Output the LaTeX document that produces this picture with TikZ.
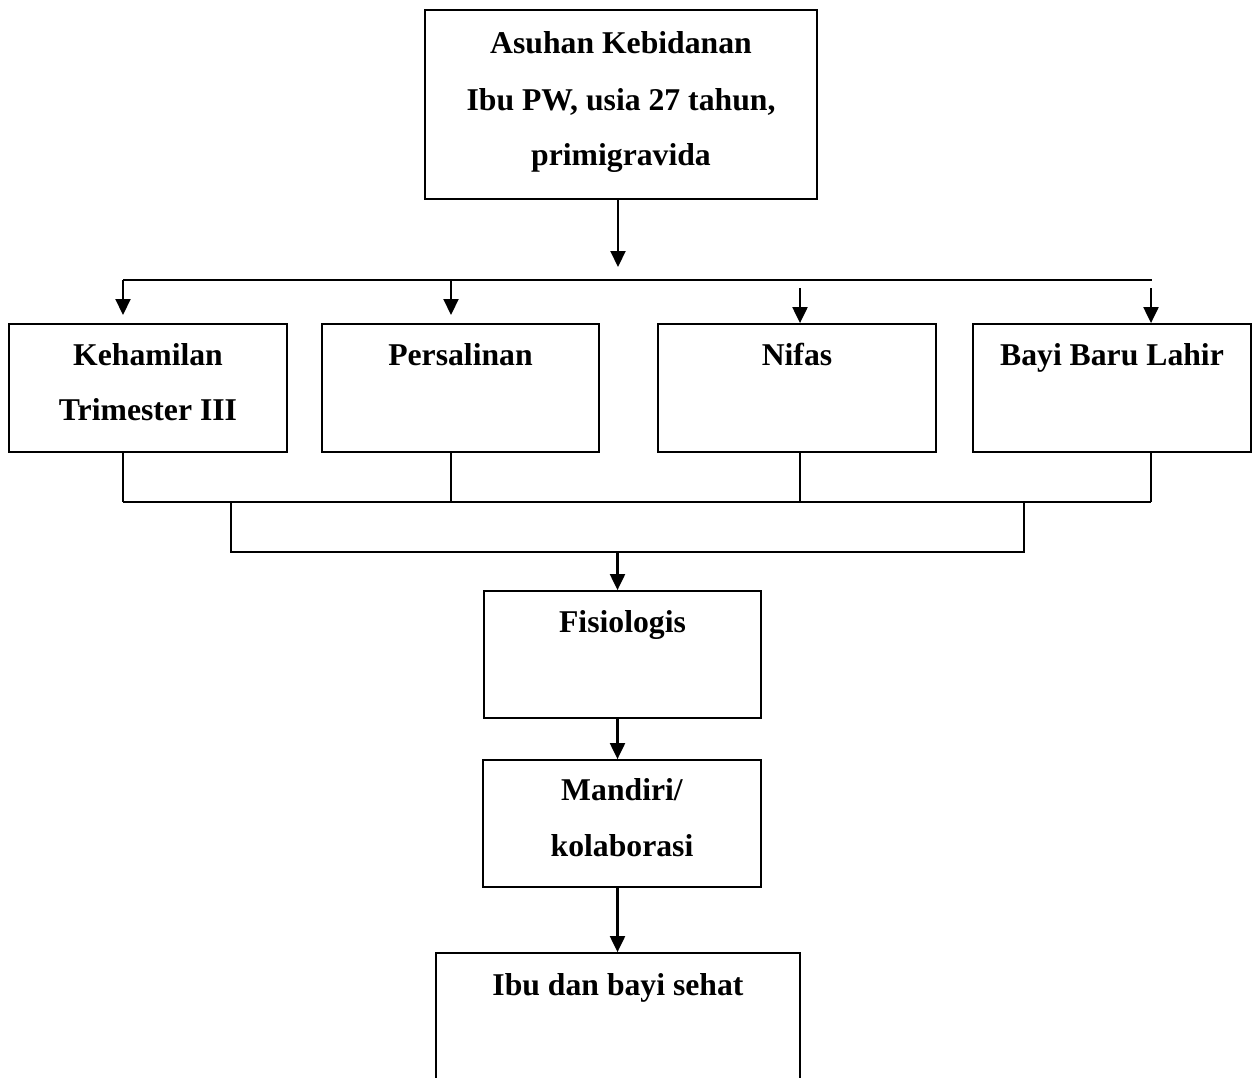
\documentclass[tikz,border=0pt]{standalone}
\usepackage{fontspec}
\setmainfont{Liberation Serif}
\usetikzlibrary{arrows.meta}
\begin{document}
\begin{tikzpicture}[x=1pt,y=-1pt,
  box/.style={draw=black,line width=1.8pt,rectangle,inner sep=0pt,fill=none},
  lbl/.style={anchor=base,inner sep=0pt,font=\fontsize{31.7}{38}\selectfont\bfseries},
  conn/.style={line width=1.8pt,draw=black},
  arr/.style={line width=2.1pt,draw=black,-{Triangle[length=16pt,width=15pt]}}]
\useasboundingbox (0,0) rectangle (1252,1077);
\clip (0,0) rectangle (1252,1077);
% boxes
\node[box,minimum width=392pt,minimum height=189pt] (top) at (621,104.5) {};
\node[box,minimum width=278pt,minimum height=128pt] (keh) at (148,388) {};
\node[box,minimum width=277pt,minimum height=128pt] (per) at (460.5,388) {};
\node[box,minimum width=278pt,minimum height=128pt] (nif) at (797,388) {};
\node[box,minimum width=278pt,minimum height=128pt] (bayi) at (1112,388) {};
\node[box,minimum width=277pt,minimum height=127pt] (fis) at (622.5,654.5) {};
\node[box,minimum width=278pt,minimum height=127pt] (man) at (622,823.5) {};
\node[box,minimum width=364pt,minimum height=200pt] (ibu) at (618,1053) {};
% labels
\node[lbl] (t1) at (621,53) {Asuhan Kebidanan};
\node[lbl] (t2) at (621,110) {Ibu PW, usia 27 tahun,};
\node[lbl] (t3) at (621,165) {primigravida};
\node[lbl] (k1) at (148,365) {Kehamilan};
\node[lbl] (k2) at (148,420) {Trimester III};
\node[lbl] (p1) at (460.5,365) {Persalinan};
\node[lbl] (n1) at (797,365) {Nifas};
\node[lbl] (b1) at (1112,365) {Bayi Baru Lahir};
\node[lbl] (f1) at (622.5,632) {Fisiologis};
\node[lbl] (m1) at (622,800) {Mandiri/};
\node[lbl] (m2) at (622,856) {kolaborasi};
\node[lbl] (i1) at (618,995) {Ibu dan bayi sehat};
% junction coordinates
\coordinate (spine) at (617.5,0);
\coordinate (topend) at (618,267);
\coordinate (hl) at (123,280);
\coordinate (hr) at (1152,280);
\coordinate (kehA) at (123,280);
\coordinate (perA) at (451,280);
\coordinate (nifA) at (800,288);
\coordinate (bayA) at (1151,288);
\coordinate (kehT) at (123,315);
\coordinate (perT) at (451,315);
\coordinate (m1l) at (123,502);
\coordinate (m1r) at (1151,502);
\coordinate (m2l) at (231,552);
\coordinate (m2r) at (1024,552);
% top connectors
\draw[arr] (top.south -| topend) -- (topend);
\draw[conn] (hl) -- (hr);
\draw[arr] (kehA) -- (kehT);
\draw[arr] (perA) -- (perT);
\draw[arr] (nifA) -- (nif.north -| nifA);
\draw[arr] (bayA) -- (bayi.north -| bayA);
% lower connectors
\draw[conn] (keh.south -| kehA) -- (m1l);
\draw[conn] (per.south -| perA) -- (m1r -| perA);
\draw[conn] (nif.south -| nifA) -- (m1r -| nifA);
\draw[conn] (bayi.south -| bayA) -- (m1r);
\draw[conn] (m1l) -- (m1r);
\draw[conn] (m1l -| m2l) -- (m2l) -- (m2r) -- (m1l -| m2r);
\draw[arr] (m2l -| spine) -- (fis.north -| spine);
\draw[arr] (fis.south -| spine) -- (man.north -| spine);
\draw[arr] (man.south -| spine) -- (ibu.north -| spine);
\end{tikzpicture}
\end{document}
